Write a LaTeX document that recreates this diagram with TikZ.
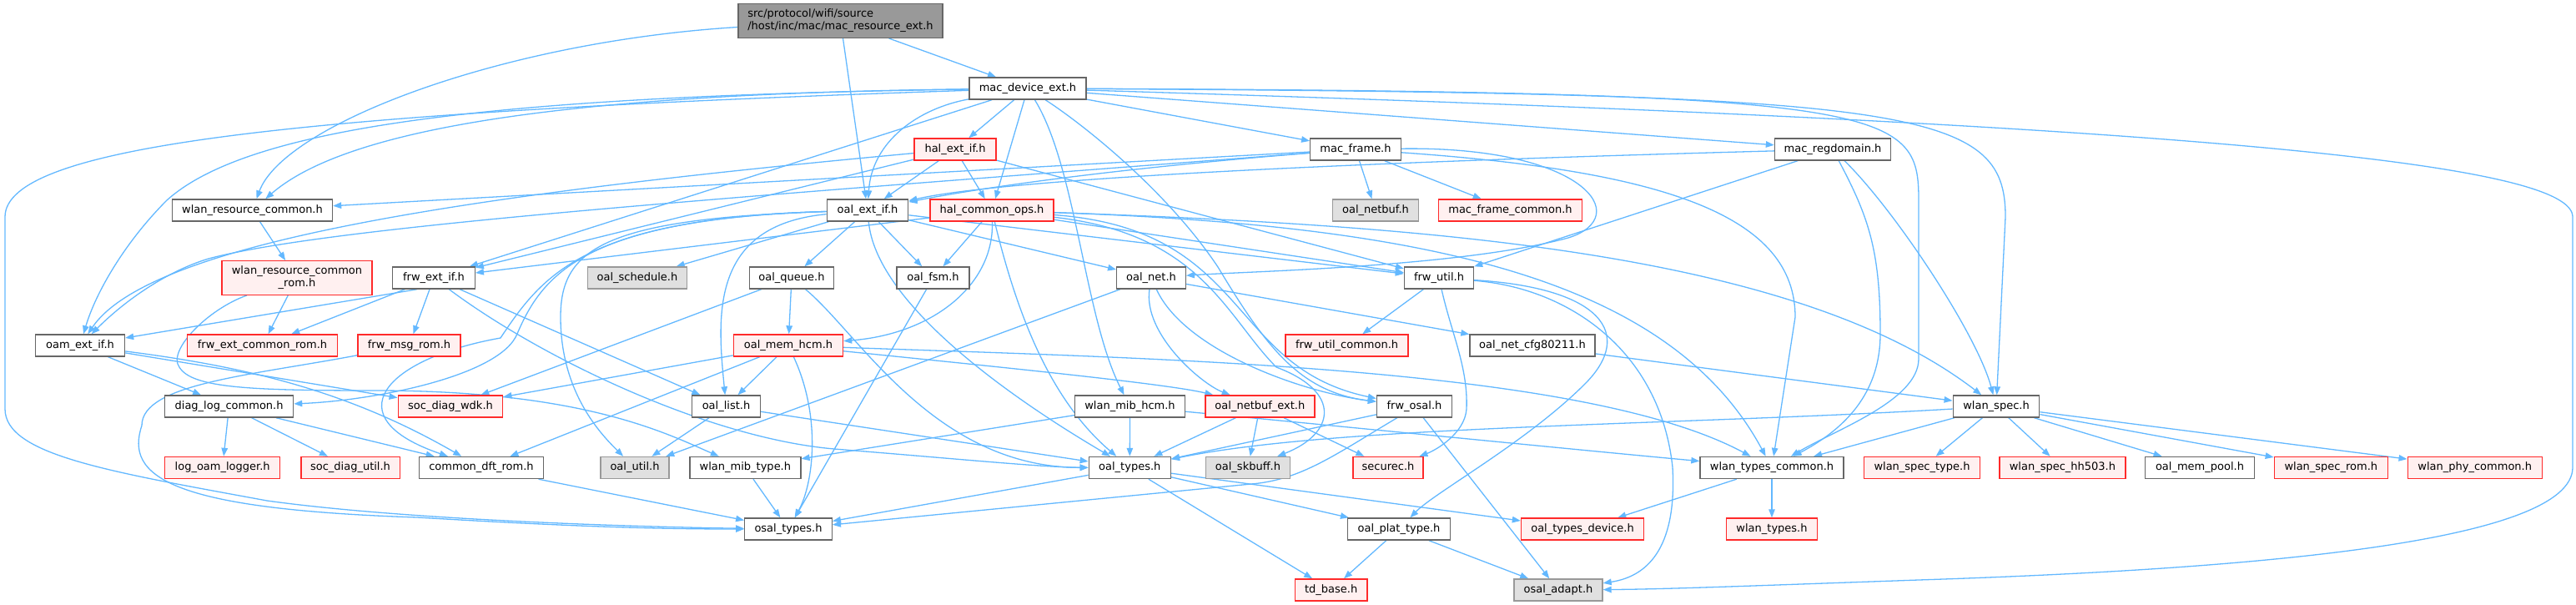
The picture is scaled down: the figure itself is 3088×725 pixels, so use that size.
\documentclass[tikz,border=0pt]{standalone}
\usepackage{fontspec}
\setmainfont{DejaVu Sans}
\usetikzlibrary{arrows.meta}
\pgfdeclarelayer{bg}
\pgfsetlayers{bg,main}
\definecolor{lnkc}{HTML}{63B8FF}
\definecolor{bordgray}{HTML}{666666}
\definecolor{redb}{HTML}{FF2A2A}
\definecolor{redf}{HTML}{FFF0F0}
\definecolor{grayf}{HTML}{E0E0E0}
\definecolor{grayb}{HTML}{999999}
\definecolor{rootf}{HTML}{999999}
\begin{document}
\begin{tikzpicture}[x=1pt,y=-1pt,
  nb/.style={draw=bordgray, fill=white, line width=1.4pt, minimum height=26pt, inner sep=0pt,
    text height=9.6pt, text depth=3.4pt, font=\fontsize{13pt}{15pt}\selectfont},
  nr/.style={nb, draw=redb, fill=redf},
  ng/.style={nb, draw=grayb, fill=grayf},
  nbm/.style={draw=bordgray, line width=1.4pt, minimum height=40.5pt, inner sep=0pt,
    font=\fontsize{13pt}{15pt}\selectfont},
  lnk/.style={draw=lnkc, line width=1.3pt, -{Triangle[length=10pt,width=7.5pt]}}]
\useasboundingbox (0,0) rectangle (3088,725);

% nodes
\node[nbm, fill=rootf, minimum width=245pt, align=left] (r) at (1007.5,25) {src/protocol/wifi/source\\/host/inc/mac/mac\_resource\_ext.h};
\node[nb, minimum width=140pt] (mde) at (1232,106) {mac\_device\_ext.h};
\node[nr, minimum width=98pt] (hei) at (1145,179) {hal\_ext\_if.h};
\node[nb, minimum width=108.5pt] (mf) at (1625,179) {mac\_frame.h};
\node[nb, minimum width=139pt] (mrd) at (2197,179) {mac\_regdomain.h};
\node[nb, minimum width=192pt] (wrc) at (302.5,252) {wlan\_resource\_common.h};
\node[nb, minimum width=97.5pt] (oei) at (1040,252) {oal\_ext\_if.h};
\node[nr, minimum width=148pt] (hco) at (1189,252) {hal\_common\_ops.h};
\node[ng, minimum width=103pt] (onb) at (1649,252) {oal\_netbuf.h};
\node[nr, minimum width=172pt] (mfc) at (1810.5,252) {mac\_frame\_common.h};
\node[nbm, draw=redb, fill=redf, minimum width=180pt, align=center] (wrcr) at (356,333) {wlan\_resource\_common\\\_rom.h};
\node[nb, minimum width=98.5pt] (fei) at (520,333) {frw\_ext\_if.h};
\node[ng, minimum width=118.5pt] (osch) at (764,333) {oal\_schedule.h};
\node[nb, minimum width=101.5pt] (oq) at (949,333) {oal\_queue.h};
\node[nb, minimum width=87pt] (ofsm) at (1118.5,333) {oal\_fsm.h};
\node[nb, minimum width=82.5pt] (onet) at (1380,333) {oal\_net.h};
\node[nb, minimum width=83pt] (fu) at (1725,333) {frw\_util.h};
\node[nb, minimum width=107pt] (oam) at (96,414) {oam\_ext\_if.h};
\node[nr, minimum width=180pt] (fecr) at (314.5,414) {frw\_ext\_common\_rom.h};
\node[nr, minimum width=123pt] (fmr) at (490.5,414) {frw\_msg\_rom.h};
\node[nr, minimum width=131pt] (omem) at (945,414) {oal\_mem\_hcm.h};
\node[nr, minimum width=147pt] (fuc) at (1614.6,414) {frw\_util\_common.h};
\node[nb, minimum width=150pt] (ncfg) at (1837,414) {oal\_net\_cfg80211.h};
\node[nb, minimum width=154pt] (dlc) at (274.6,487) {diag\_log\_common.h};
\node[nr, minimum width=125.5pt] (sdw) at (540,487) {soc\_diag\_wdk.h};
\node[nb, minimum width=81.6pt] (ol) at (870.5,487) {oal\_list.h};
\node[nb, minimum width=132pt] (wmh) at (1354.5,487) {wlan\_mib\_hcm.h};
\node[nr, minimum width=130.8pt] (onbe) at (1510.4,487) {oal\_netbuf\_ext.h};
\node[nb, minimum width=90pt] (fo) at (1695.5,487) {frw\_osal.h};
\node[nb, minimum width=103.5pt] (wls) at (2393,487) {wlan\_spec.h};
\node[nr, minimum width=138pt] (lol) at (266.7,560.5) {log\_oam\_logger.h};
\node[nr, minimum width=118.4pt] (sdu) at (420,560.5) {soc\_diag\_util.h};
\node[nb, minimum width=149pt] (cdr) at (577,560.5) {common\_dft\_rom.h};
\node[ng, minimum width=82pt] (ou) at (761,560.5) {oal\_util.h};
\node[nb, minimum width=133pt] (wmt) at (893.4,560.5) {wlan\_mib\_type.h};
\node[nb, minimum width=98pt] (ot) at (1354.3,560.5) {oal\_types.h};
\node[ng, minimum width=101.5pt] (oskb) at (1496,560.5) {oal\_skbuff.h};
\node[nr, minimum width=84pt] (sec) at (1664,560.5) {securec.h};
\node[nb, minimum width=172pt] (wtc) at (2124,560.5) {wlan\_types\_common.h};
\node[nr, minimum width=139pt] (wst) at (2304,560.5) {wlan\_spec\_type.h};
\node[nr, minimum width=151pt] (wsh) at (2472.4,560.5) {wlan\_spec\_hh503.h};
\node[nb, minimum width=131pt] (omp) at (2637,560.5) {oal\_mem\_pool.h};
\node[nr, minimum width=136pt] (wsr) at (2794.3,560.5) {wlan\_spec\_rom.h};
\node[nr, minimum width=161pt] (wpc) at (2966.7,560.5) {wlan\_phy\_common.h};
\node[nb, minimum width=104.5pt] (ost) at (945,634) {osal\_types.h};
\node[nb, minimum width=123pt] (opt) at (1677,634) {oal\_plat\_type.h};
\node[nr, minimum width=147pt] (otd) at (1897,634) {oal\_types\_device.h};
\node[nr, minimum width=109pt] (wt) at (2124,634) {wlan\_types.h};
\node[nr, minimum width=86.6pt] (tdb) at (1595.7,707) {td\_base.h};
\node[ng, minimum width=106pt] (oa) at (1868,707) {osal\_adapt.h};

\begin{pgfonlayer}{bg}
% root
\draw[lnk] (r) .. controls (600,50) and (340,150) .. (wrc);
\draw[lnk] (r) -- (oei);
\draw[lnk] (r) -- (mde);
% mac_device_ext
\draw[lnk] (mde) .. controls (700,112) and (420,150) .. (wrc);
\draw[lnk] (mde) .. controls (600,115) and (300,150) .. (200,240) .. controls (150,290) and (115,350) .. (oam);
\draw[lnk] (mde) .. controls (350,135) and (6,175) .. (6,260) -- (6,490) .. controls (6,545) and (130,565) .. (320,600) .. controls (500,625) and (800,632) .. (ost);
\draw[lnk] (mde) -- (fei);
\draw[lnk] (mde) .. controls (1100,130) and (1045,170) .. (oei);
\draw[lnk] (mde) -- (hei);
\draw[lnk] (mde) -- (hco);
\draw[lnk] (mde) .. controls (1290,200) and (1300,380) .. (wmh);
\draw[lnk] (mde) .. controls (1300,150) and (1400,230) .. (1460,320) .. controls (1520,420) and (1560,470) .. (fo);
\draw[lnk] (mde) -- (mf);
\draw[lnk] (mde) -- (mrd);
\draw[lnk] (mde) .. controls (2270,110) and (2300,130) .. (2300,240) -- (2300,430) .. controls (2300,480) and (2200,515) .. (wtc);
\draw[lnk] (mde) .. controls (2300,112) and (2404,130) .. (2404,260) -- (wls);
\draw[lnk] (mde) .. controls (2700,150) and (3084,200) .. (3084,260) -- (3084,560) .. controls (3084,650) and (2700,682) .. (2300,695) .. controls (2100,702) and (2000,706) .. (oa);
% hal_ext_if
\draw[lnk] (hei) -- (oei);
\draw[lnk] (hei) -- (hco);
\draw[lnk] (hei) .. controls (560,233) and (180,290) .. (oam);
\draw[lnk] (hei) -- (fei);
\draw[lnk] (hei) -- (fu);
% mac_frame
\draw[lnk] (mf) .. controls (1300,205) and (1150,230) .. (oei);
\draw[lnk] (mf) -- (wrc);
\draw[lnk] (mf) .. controls (900,235) and (400,270) .. (250,310) .. controls (200,325) and (150,360) .. (oam);
\draw[lnk] (mf) -- (onb);
\draw[lnk] (mf) -- (mfc);
\draw[lnk] (mf) .. controls (1900,175) and (1960,260) .. (1880,285) .. controls (1750,320) and (1500,325) .. (onet);
\draw[lnk] (mf) .. controls (2000,205) and (2152,260) .. (2152,380) -- (wtc);
% mac_regdomain
\draw[lnk] (mrd) .. controls (1600,195) and (1200,215) .. (oei);
\draw[lnk] (mrd) -- (fu);
\draw[lnk] (mrd) .. controls (2240,260) and (2254,300) .. (2254,400) .. controls (2254,480) and (2200,520) .. (wtc);
\draw[lnk] (mrd) .. controls (2270,250) and (2370,400) .. (wls);
% oal_ext_if
\draw[lnk] (oei) -- (osch);
\draw[lnk] (oei) -- (oq);
\draw[lnk] (oei) -- (ofsm);
\draw[lnk] (oei) -- (onet);
\draw[lnk] (oei) -- (fu);
\draw[lnk] (oei) .. controls (850,270) and (860,380) .. (ol);
\draw[lnk] (oei) .. controls (720,262) and (672,300) .. (672,380) .. controls (672,470) and (720,520) .. (ou);
\draw[lnk] (oei) .. controls (1050,360) and (1200,470) .. (ot);
\draw[lnk] (oei) .. controls (700,262) and (650,330) .. (620,400) .. controls (600,450) and (450,480) .. (dlc);
\draw[lnk] (oei) .. controls (700,262) and (650,330) .. (600,405) .. controls (460,430) and (400,500) .. (cdr);
% hal_common_ops
\draw[lnk] (hco) -- (ofsm);
\draw[lnk] (hco) .. controls (1192,340) and (1120,400) .. (omem);
\draw[lnk] (hco) -- (fei);
\draw[lnk] (hco) .. controls (1220,380) and (1260,480) .. (ot);
\draw[lnk] (hco) -- (fu);
\draw[lnk] (hco) .. controls (1700,270) and (2000,330) .. (wtc);
\draw[lnk] (hco) .. controls (1700,270) and (2150,300) .. (wls);
\draw[lnk] (hco) .. controls (1500,275) and (1470,440) .. (fo);
\draw[lnk] (hco) .. controls (1440,280) and (1470,380) .. (1530,440) .. controls (1610,470) and (1600,520) .. (oskb);
% oal_queue
\draw[lnk] (oq) -- (omem);
\draw[lnk] (oq) .. controls (1030,400) and (1120,560) .. (ot);
\draw[lnk] (oq) -- (sdw);
% oal_fsm
\draw[lnk] (ofsm) -- (ost);
% oal_net
\draw[lnk] (onet) .. controls (1370,400) and (1440,460) .. (onbe);
\draw[lnk] (onet) -- (ncfg);
\draw[lnk] (onet) -- (ou);
\draw[lnk] (onet) .. controls (1420,420) and (1560,470) .. (fo);
% oal_net_cfg80211
\draw[lnk] (ncfg) -- (wls);
% frw_util
\draw[lnk] (fu) -- (fuc);
\draw[lnk] (fu) .. controls (1740,400) and (1760,440) .. (1758,490) .. controls (1756,520) and (1720,540) .. (sec);
\draw[lnk] (fu) .. controls (1920,345) and (1960,400) .. (1900,460) .. controls (1830,530) and (1720,590) .. (opt);
\draw[lnk] (fu) .. controls (1880,345) and (1990,420) .. (2005,560) .. controls (2010,650) and (1980,690) .. (oa);
% wlan_resource_common
\draw[lnk] (wrc) -- (wrcr);
\draw[lnk] (wrcr) -- (fecr);
\draw[lnk] (wrcr) .. controls (250,370) and (200,420) .. (215,440) .. controls (230,465) and (300,468) .. (450,468) .. controls (700,468) and (800,520) .. (wmt);
% frw_ext_if
\draw[lnk] ([xshift=-20pt]fei.south) -- (oam);
\draw[lnk] (fei) -- (fecr);
\draw[lnk] (fei) -- (fmr);
\draw[lnk] (fei) -- (ol);
\draw[lnk] (fei) .. controls (650,430) and (850,525) .. (1000,538) .. controls (1150,550) and (1250,560) .. (ot);
% frw_msg_rom
\draw[lnk] (fmr) .. controls (300,450) and (170,460) .. (170,510) .. controls (150,570) and (200,610) .. (500,620) .. controls (700,632) and (800,634) .. (ost);
% oam_ext_if
\draw[lnk] (oam) -- (dlc);
\draw[lnk] (oam) -- (sdw);
\draw[lnk] (oam) .. controls (300,440) and (420,470) .. (cdr);
% diag_log_common
\draw[lnk] (dlc) -- (lol);
\draw[lnk] (dlc) -- (sdu);
\draw[lnk] (dlc) -- (cdr);
\draw[lnk] (cdr) -- (ost);
% oal_mem_hcm
\draw[lnk] (omem) -- (sdw);
\draw[lnk] (omem) -- (ol);
\draw[lnk] (omem) .. controls (985,500) and (975,580) .. (ost);
\draw[lnk] (omem) .. controls (1400,430) and (1900,440) .. (wtc);
\draw[lnk] (omem) .. controls (1200,440) and (1400,460) .. (onbe);
\draw[lnk] (omem) -- (cdr);
% oal_list
\draw[lnk] (ol) -- (ou);
\draw[lnk] (ol) -- (ot);
% wlan_mib_hcm
\draw[lnk] (wmh) -- (ot);
\draw[lnk] (wmh) -- (wmt);
\draw[lnk] (wmh) .. controls (1600,510) and (1900,540) .. (wtc);
% oal_netbuf_ext
\draw[lnk] (onbe) -- (ot);
\draw[lnk] (onbe) -- (oskb);
\draw[lnk] (onbe) -- (sec);
% wlan_mib_type
\draw[lnk] (wmt) -- (ost);
% oal_types
\draw[lnk] (ot) -- (ost);
\draw[lnk] (ot) -- (opt);
\draw[lnk] (ot) -- (otd);
\draw[lnk] (ot) -- (tdb);
% frw_osal
\draw[lnk] (fo) -- (ot);
\draw[lnk] ([xshift=25pt]fo.south west) .. controls (1600,545) and (1560,575) .. (1500,580) -- (ost);
\draw[lnk] (fo) -- (oa);
% wlan_types_common
\draw[lnk] (wtc) -- (otd);
\draw[lnk] (wtc) -- (wt);
% wlan_spec
\draw[lnk] (wls) .. controls (2000,510) and (1600,510) .. (ot);
\draw[lnk] (wls) -- (wtc);
\draw[lnk] (wls) -- (wst);
\draw[lnk] (wls) -- (wsh);
\draw[lnk] (wls) -- (omp);
\draw[lnk] (wls) -- (wsr);
\draw[lnk] (wls) -- (wpc);
% oal_plat_type
\draw[lnk] (opt) -- (tdb);
\draw[lnk] (opt) -- (oa);
\end{pgfonlayer}
\end{tikzpicture}
\end{document}
